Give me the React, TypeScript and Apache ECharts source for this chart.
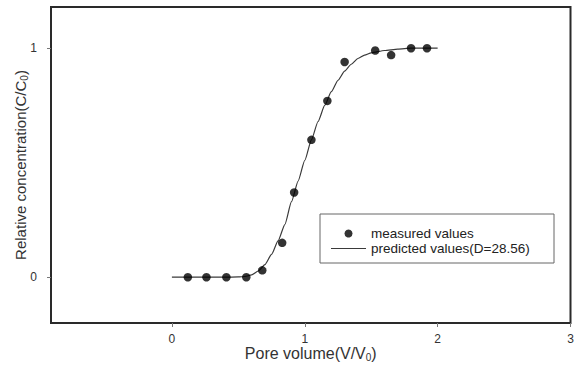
import React, { useEffect, useRef } from "react";
import * as echarts from "echarts";

const measuredX = [0.12, 0.26, 0.41, 0.56, 0.68, 0.83, 0.92, 1.05, 1.17, 1.3, 1.53, 1.65, 1.8, 1.92];
const measuredY = [0, 0, 0, 0, 0.03, 0.15, 0.37, 0.6, 0.77, 0.94, 0.99, 0.97, 1.0, 1.0];

const predictedX = [0, 0.4, 0.5, 0.55, 0.6, 0.65, 0.7, 0.75, 0.8, 0.85, 0.9, 0.95, 1.0, 1.05, 1.1, 1.15, 1.2, 1.25, 1.3, 1.35, 1.4, 1.45, 1.5, 1.6, 1.7, 1.8, 2.0];
const predictedY = [0, 0, 0.001, 0.003, 0.01, 0.027, 0.055, 0.1, 0.16, 0.23, 0.33, 0.42, 0.51, 0.6, 0.68, 0.75, 0.81, 0.86, 0.9, 0.93, 0.955, 0.97, 0.98, 0.99, 0.996, 1.0, 1.0];

const xTicks = [0, 1, 2, 3];
const yTicks = [0, 1];

const measuredName = "measured values";
const predictedName = "predicted values(D=28.56)";

const FONT = "'Liberation Sans', Arial, Helvetica, sans-serif";

const subStyle = { fontSize: 10, lineHeight: 10, verticalAlign: "bottom", color: "#333", fontFamily: FONT };

export default function App() {
  const ref = useRef<HTMLDivElement>(null);
  useEffect(() => {
    if (!ref.current) return;
    const chart = echarts.init(ref.current, undefined, { renderer: "svg" });
    chart.setOption({
      animation: false,
      backgroundColor: "#fff",
      textStyle: { fontFamily: FONT },
      grid: {
        left: 51,
        top: 7,
        right: 4.5,
        bottom: 42,
        outerBoundsMode: "none",
        containLabel: false,
        show: true,
        borderColor: "#2a2a2a",
        borderWidth: 2,
        backgroundColor: "transparent",
      },
      xAxis: {
        type: "value",
        min: -0.91,
        max: 3,
        splitLine: { show: false },
        axisLine: { show: false, onZero: false },
        axisTick: { show: true, customValues: xTicks, length: 4, lineStyle: { color: "#777" } },
        axisLabel: { customValues: xTicks, margin: 10, fontSize: 12, color: "#333", fontFamily: FONT },
        name: "Pore volume(V/V{sub|0})",
        nameLocation: "middle",
        nameGap: 21,
        nameMoveOverlap: false,
        nameTextStyle: {
          fontSize: 16,
          lineHeight: 18,
          color: "#333",
          fontFamily: FONT,
          rich: { sub: subStyle },
        },
      },
      yAxis: {
        type: "value",
        min: -0.2,
        max: 1.18,
        splitLine: { show: false },
        axisLine: { show: false, onZero: false },
        axisTick: { show: true, customValues: yTicks, length: 4, lineStyle: { color: "#777" } },
        axisLabel: { customValues: yTicks, margin: 14, fontSize: 12, color: "#333", fontFamily: FONT },
        name: "Relative concentration(C/C{sub|0})",
        nameLocation: "middle",
        nameGap: 22,
        nameMoveOverlap: false,
        nameTextStyle: {
          fontSize: 15,
          lineHeight: 18,
          color: "#333",
          fontFamily: FONT,
          rich: { sub: subStyle },
        },
      },
      legend: {
        orient: "vertical",
        left: 331,
        top: 226,
        itemGap: 0,
        itemWidth: 35,
        itemHeight: 8,
        selectedMode: false,
        symbolKeepAspect: true,
        padding: 0,
        textStyle: { fontSize: 13.5, lineHeight: 15, color: "#222", fontFamily: FONT },
        data: [
          { name: measuredName, icon: "circle" },
          { name: predictedName, icon: "path://M0,0H35V1H0Z" },
        ],
      },
      graphic: [
        {
          type: "rect",
          shape: { x: 320, y: 214, width: 234, height: 49 },
          style: { fill: "none", stroke: "#666", lineWidth: 1 },
          z: 10,
        },
      ],
      series: [
        {
          name: predictedName,
          type: "line",
          data: predictedX.map((x, i) => [x, predictedY[i]]),
          smooth: 0.2,
          smoothMonotone: "x",
          symbol: "none",
          lineStyle: { color: "#3a3a3a", width: 1.2 },
          itemStyle: { color: "#3a3a3a" },
          z: 2,
        },
        {
          name: measuredName,
          type: "scatter",
          data: measuredX.map((x, i) => [x, measuredY[i]]),
          symbol: "circle",
          symbolSize: 8.5,
          itemStyle: { color: "#000" },
          z: 3,
        },
      ],
    });
    return () => chart.dispose();
  }, []);
  return (
    <div
      ref={ref}
      style={{ position: "fixed", left: 0, top: 0, width: 575, height: 365 }}
    />
  );
}
